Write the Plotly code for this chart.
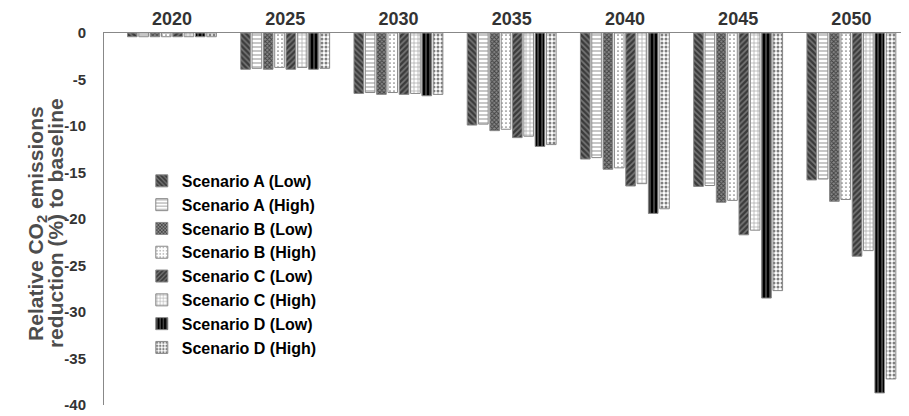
import plotly.graph_objects as go

years = ["2020", "2025", "2030", "2035", "2040", "2045", "2050"]
scenario_names = ["Scenario A (Low)", "Scenario A (High)", "Scenario B (Low)", "Scenario B (High)",
                  "Scenario C (Low)", "Scenario C (High)", "Scenario D (Low)", "Scenario D (High)"]
a_low = [-0.4, -3.9, -6.5, -9.9, -13.55, -16.5, -15.8]
a_high = [-0.4, -3.8, -6.4, -9.8, -13.4, -16.4, -15.7]
b_low = [-0.4, -3.9, -6.6, -10.5, -14.65, -18.2, -18.1]
b_high = [-0.4, -3.7, -6.4, -10.35, -14.5, -18.0, -17.9]
c_low = [-0.4, -3.9, -6.6, -11.25, -16.45, -21.7, -24.0]
c_high = [-0.4, -3.7, -6.5, -11.1, -16.2, -21.2, -23.4]
d_low = [-0.4, -3.9, -6.75, -12.2, -19.4, -28.5, -38.7]
d_high = [-0.4, -3.8, -6.6, -12.0, -18.9, -27.7, -37.2]
series = [a_low, a_high, b_low, b_high, c_low, c_high, d_low, d_high]

y_tick_vals = [0, -5, -10, -15, -20, -25, -30, -35, -40]
y_tick_text = ["0", "-5", "-10", "-15", "-20", "-25", "-30", "-35", "-40"]
y_title_lines = ["Relative CO<sub>2</sub> emissions", "reduction (%) to baseline"]

patterns = [
    dict(shape="\\", fgcolor="black", bgcolor="#777", solidity=0.6, size=4),
    dict(shape="-", fgcolor="#444", bgcolor="white", solidity=0.3, size=4),
    dict(shape="x", fgcolor="black", bgcolor="#888", solidity=0.55, size=3),
    dict(shape=".", fgcolor="black", bgcolor="white", solidity=0.15, size=4),
    dict(shape="/", fgcolor="black", bgcolor="#777", solidity=0.6, size=4),
    dict(shape="+", fgcolor="#444", bgcolor="white", solidity=0.3, size=4),
    dict(shape="|", fgcolor="white", bgcolor="black", solidity=0.25, size=4),
    dict(shape=".", fgcolor="black", bgcolor="white", solidity=0.45, size=4),
]

font_family = "Arial, Liberation Sans, sans-serif"
fig = go.Figure()
for i, (name, vals) in enumerate(zip(scenario_names, series)):
    fig.add_trace(go.Bar(
        x=years, y=vals, name=name, legendgroup=name,
        marker=dict(pattern=patterns[i], color=patterns[i]["bgcolor"],
                    line=dict(color="#888", width=1)),
    ))

# page body adds an 8px offset; margins compensate for it
fig.update_layout(
    width=909, height=416,
    margin=dict(l=96, r=9, t=25, b=19, autoexpand=False),
    paper_bgcolor="white", plot_bgcolor="white",
    barmode="group", bargap=0.2, bargroupgap=0.15,
    font=dict(family=font_family, color="#333"),
    showlegend=True,
    legend=dict(x=0.047, y=0.648, xanchor="left", yanchor="top",
                font=dict(size=16, color="black", family=font_family, weight="bold"),
                bgcolor="rgba(0,0,0,0)", tracegroupgap=0, itemwidth=30),
    xaxis=dict(side="top", type="category", range=[-0.6, 6.5], showline=True, linecolor="#888",
               linewidth=1, ticks="", showgrid=False, zeroline=False, automargin=False,
               tickfont=dict(size=18, color="#333", family=font_family, weight="bold")),
    yaxis=dict(range=[-40, 0], tickvals=y_tick_vals, ticktext=y_tick_text, showline=True,
               linecolor="#888", linewidth=1, ticks="", showgrid=False, zeroline=False,
               automargin=False, ticklabelstandoff=14,
               tickfont=dict(size=15, color="#333", family=font_family, weight="bold")),
)

for txt, xp in zip(y_title_lines, [-0.0835, -0.061]):
    fig.add_annotation(text=txt, xref="paper", yref="paper", x=xp, y=0.489,
                       xanchor="center", yanchor="middle", textangle=-90, showarrow=False,
                       font=dict(size=21, color="#4d4d4d", family=font_family, weight="bold"))

fig.write_html("out.html")
